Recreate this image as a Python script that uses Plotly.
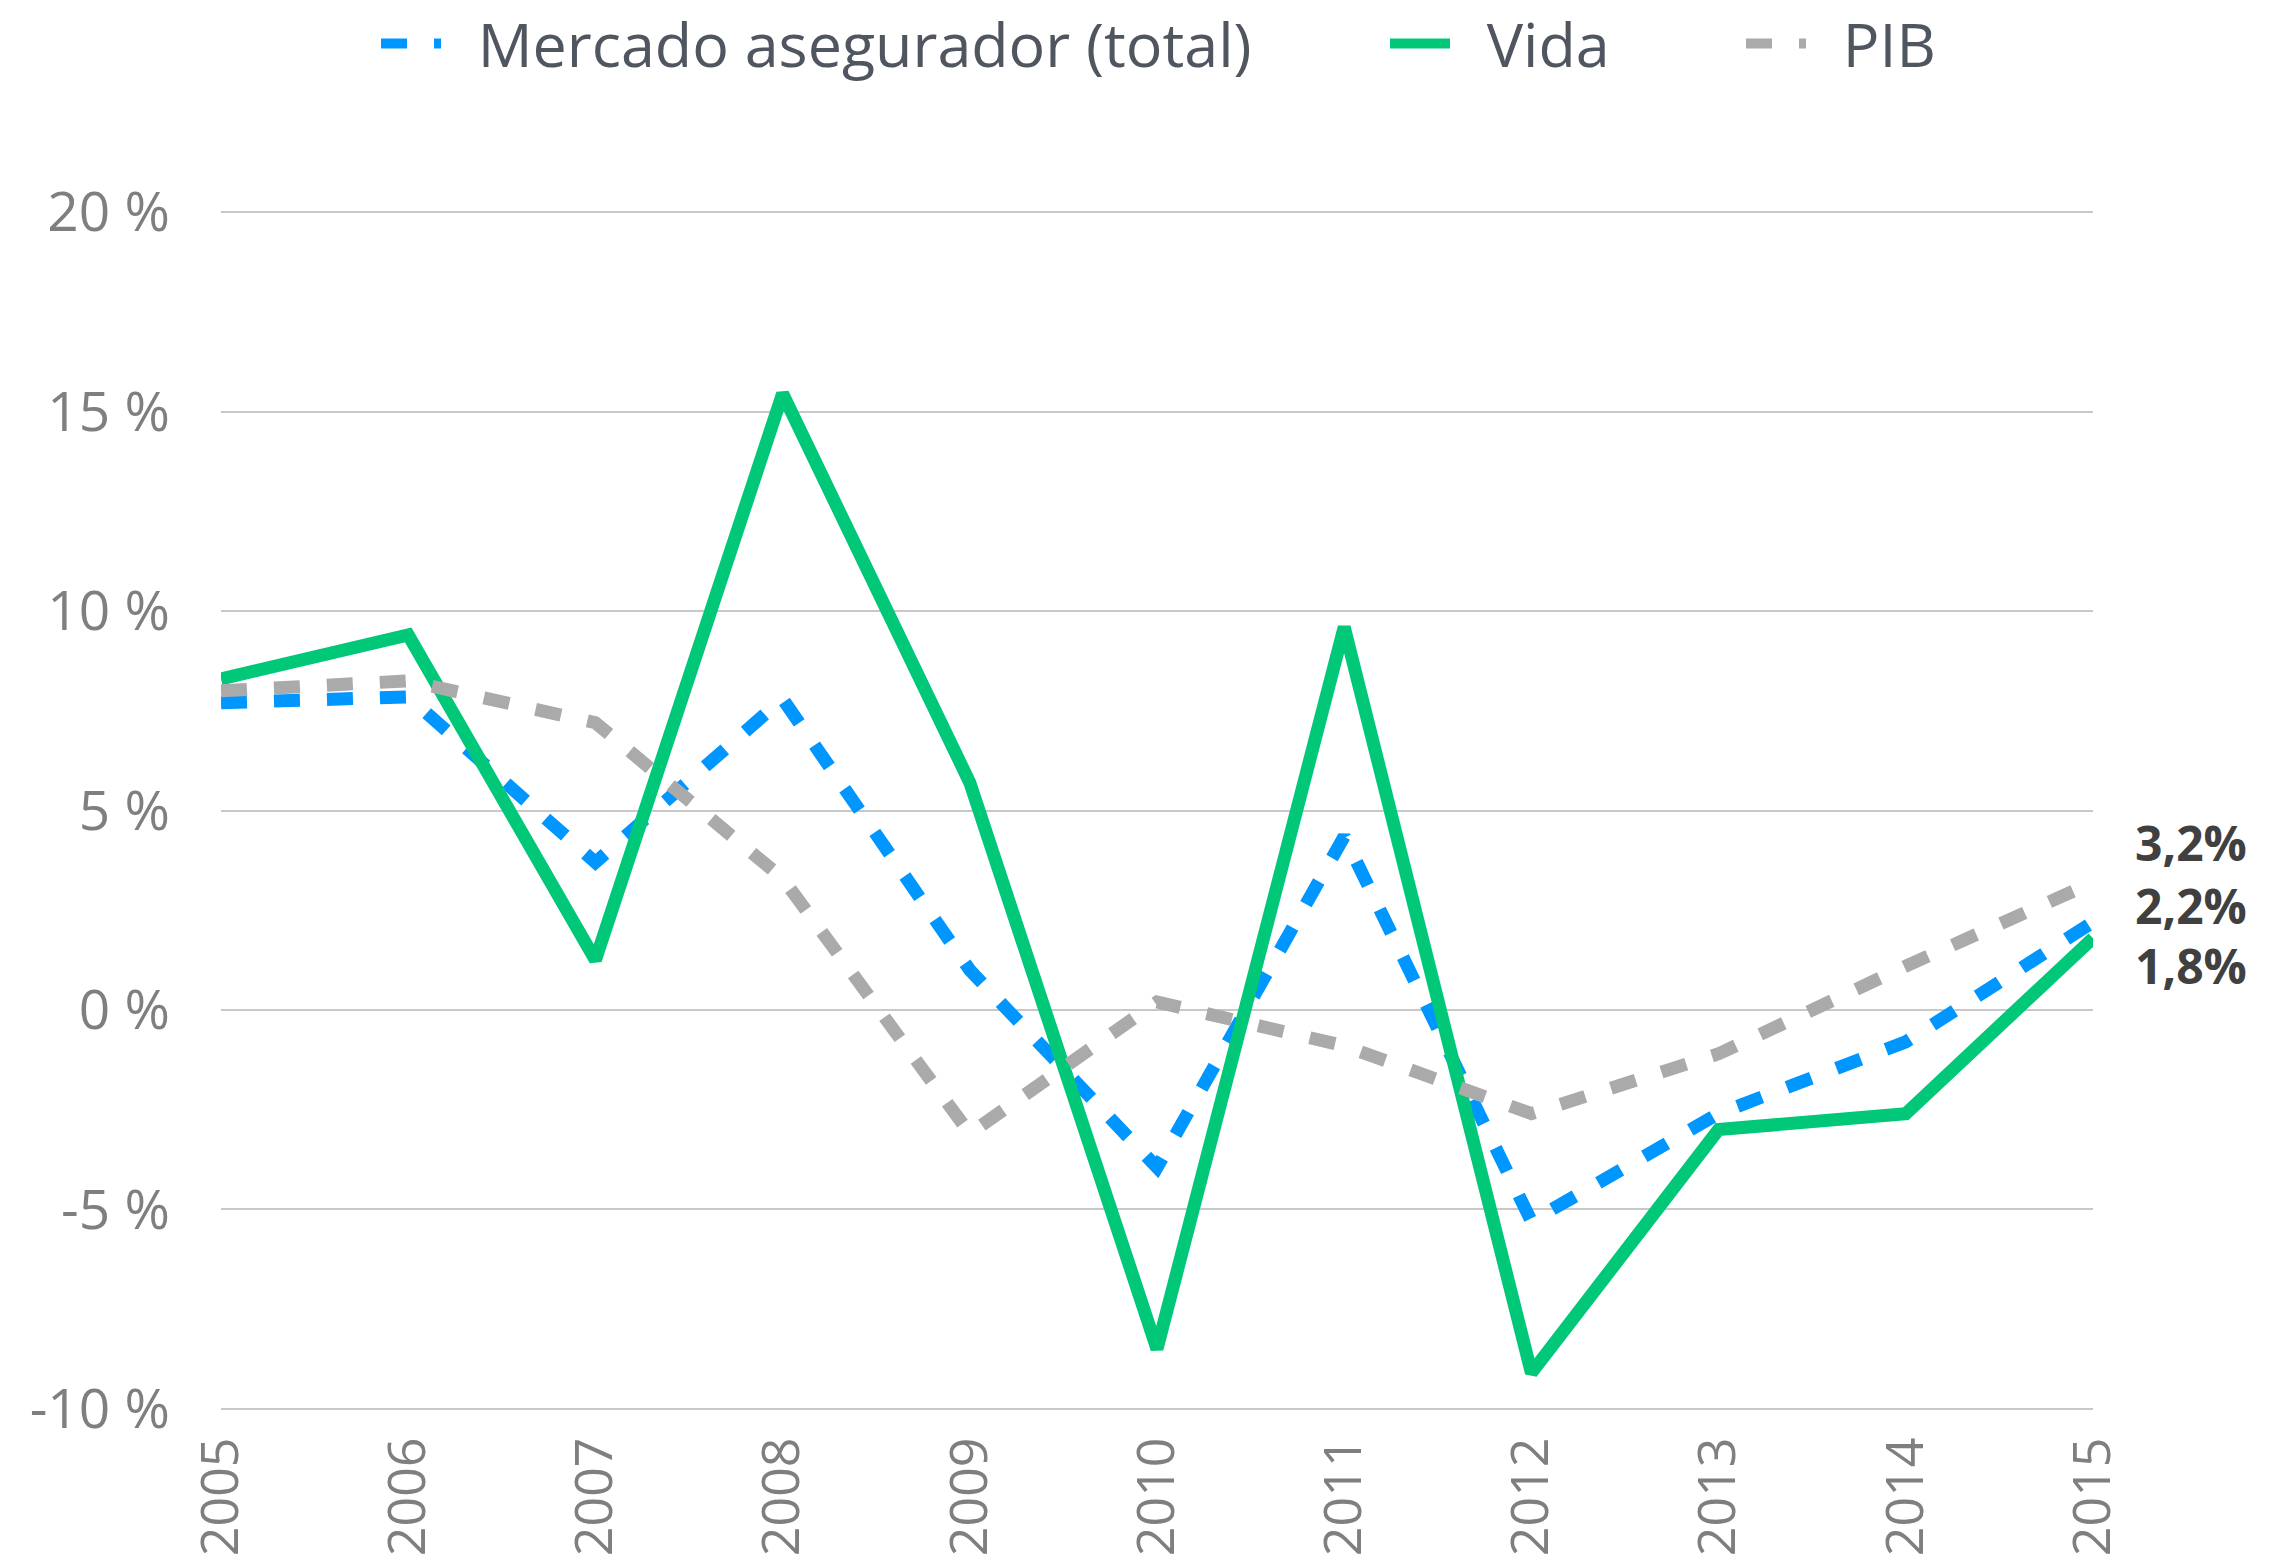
import plotly.graph_objects as go

years = list(range(2005, 2016))
mercado = [7.7, 7.85, 3.7, 7.8, 1.0, -3.95, 4.35, -5.3, -2.6, -0.8, 2.2]
vida = [8.3, 9.4, 1.25, 15.45, 5.7, -8.5, 9.6, -9.1, -3.0, -2.6, 1.8]
pib = [8.0, 8.25, 7.2, 3.3, -3.1, 0.2, -0.9, -2.6, -1.1, 1.1, 3.2]

y_ticks = [-10, -5, 0, 5, 10, 15, 20]
y_tick_labels = ["-10 %", "-5 %", "0 %", "5 %", "10 %", "15 %", "20 %"]

FONT = "Open Sans, Noto Sans, sans-serif"
BLUE = "#0096ff"
GREEN = "#00c878"
GREY = "#aaaaaa"

series = [
    ("Mercado asegurador (total)", mercado, BLUE, "26px,27px", "legend"),
    ("Vida", vida, GREEN, "solid", "legend2"),
    ("PIB", pib, GREY, "26px,27px", "legend3"),
]
# label offsets so the end labels stack like the original
label_shift = {"PIB": 40, "Mercado asegurador (total)": 17, "Vida": -27}

fig = go.Figure()
for name, vals, color, dash, leg in series:
    fig.add_trace(go.Scatter(
        x=years, y=vals, mode="lines", name="\u00a0\u00a0" + name, legend=leg,
        line=dict(color=color, width=13, dash=dash),
        cliponaxis=False,
    ))

for name, vals, color, *_ in series:
    fig.add_annotation(
        x=years[-1], y=vals[-1], xref="x", yref="y",
        text=f"<b>{vals[-1]:.1f}%</b>".replace(".", ","),
        showarrow=False, xanchor="left", yanchor="middle",
        xshift=40, yshift=label_shift[name],
        font=dict(family=FONT, size=48, color="#404040"),
    )

legend_style = dict(
    orientation="h", yref="container", y=0.972, yanchor="middle",
    xref="container", xanchor="left",
    font=dict(family=FONT, size=61, color="#505660"),
    bgcolor="rgba(0,0,0,0)", itemwidth=60,
)

fig.update_layout(
    width=2270, height=1562,
    margin=dict(l=221, r=177, t=211, b=152),
    paper_bgcolor="white", plot_bgcolor="white",
    showlegend=True,
    legend=dict(x=376 / 2270, **legend_style),
    legend2=dict(x=1385 / 2270, **legend_style),
    legend3=dict(x=1741 / 2270, **legend_style),
    xaxis=dict(
        range=[2005, 2015], tickvals=years, ticktext=[str(y) for y in years],
        tickangle=-90, showgrid=False, zeroline=False, showline=False,
        ticks="", ticklabelstandoff=16, automargin=False,
        tickfont=dict(family=FONT, size=52, color="#7f7f7f"),
    ),
    yaxis=dict(
        range=[-10.03, 20.03], tickvals=y_ticks, ticktext=y_tick_labels,
        showgrid=True, gridcolor="#c8c8c8", gridwidth=2,
        zeroline=False, showline=False, ticks="", ticklabelstandoff=50,
        automargin=False,
        tickfont=dict(family=FONT, size=55, color="#7f7f7f"),
    ),
)

# drop the default page margin so the figure sits at the window corner
fig.write_html(
    "out.html",
    config={"displayModeBar": False},
    post_script="document.body.style.margin='0';",
)
